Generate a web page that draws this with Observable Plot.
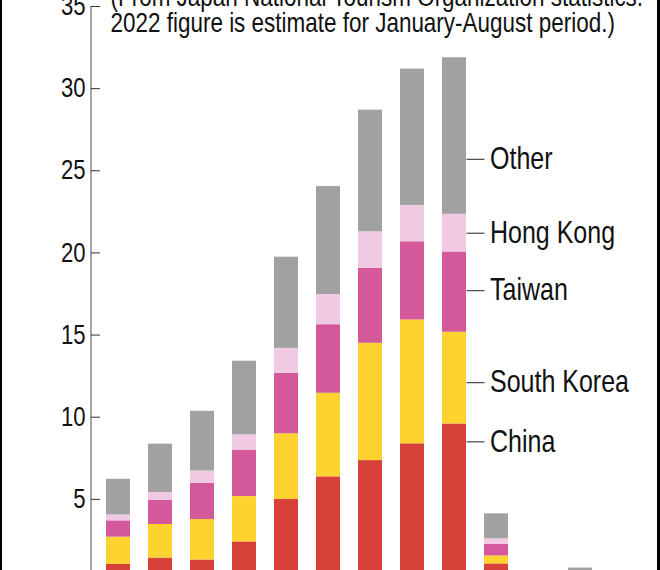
<!DOCTYPE html>
<html><head><meta charset="utf-8">
<script src="https://cdn.jsdelivr.net/npm/d3@7"></script>
<script src="https://cdn.jsdelivr.net/npm/@observablehq/plot@0.6"></script>
<style>
html,body{margin:0;padding:0;background:#fff;}
#wrap{position:relative;width:660px;height:570px;overflow:hidden;background:#fff;}
#wrap svg{display:block;margin-top:-34px;}
.edgeL{position:absolute;left:0;top:0;width:2px;height:570px;background:#000;}
.edgeR{position:absolute;right:0;top:0;width:3px;height:570px;background:#000;}
</style></head><body><div id="wrap"></div>
<script>
const years = ["2011","2012","2013","2014","2015","2016","2017","2018","2019","2020","2021","2022"];
const series = ["China","South Korea","Taiwan","Hong Kong","Other"];
const china    = [1.04,1.43,1.31,2.41,4.99,6.37,7.36,8.38,9.59,1.07,0.04,0.10];
const korea    = [1.66,2.04,2.46,2.76,4.00,5.09,7.14,7.54,5.58,0.49,0.02,0.12];
const taiwan   = [0.99,1.47,2.21,2.83,3.68,4.17,4.56,4.76,4.89,0.69,0.01,0.04];
const hongkong = [0.36,0.48,0.75,0.93,1.52,1.84,2.23,2.21,2.29,0.35,0.00,0.01];
const totals   = [6.22,8.36,10.36,13.41,19.74,24.04,28.69,31.19,31.88,4.12,0.25,0.82];
const yTicks = [0,5,10,15,20,25,30,35];
const labelYear = "2019";
const labelAt = [8.5,12.1,17.7,21.2,25.7];
const colors = ["#d8413a","#fed22f","#d3599a","#f0c9e2","#a2a1a2"];
const note = ["(From Japan National Tourism Organization statistics.","2022 figure is estimate for January-August period.)"];

const table = [];
years.forEach((yr, i) => {
  const vals = [china[i], korea[i], taiwan[i], hongkong[i]];
  const other = totals[i] - vals.reduce((a, b) => a + b, 0);
  vals.push(other);
  series.forEach((s, j) => table.push({year: yr, series: s, value: vals[j]}));
});

const plot = Plot.plot({
  width: 660, height: 650,
  marginTop: 40, marginLeft: 91, marginRight: 52.5, marginBottom: 35,
  style: {fontFamily: "'Liberation Sans', Arial, sans-serif", fontSize: "27px", color: "#111", background: "#fff"},
  x: {domain: years, paddingInner: 0.435, paddingOuter: 0.294, label: null, axis: null},
  y: {domain: [0, 35], label: null},
  color: {domain: series, range: colors},
  marks: [
    Plot.barY(table, {x: "year", y: "value", fill: "series", order: series}),
    Plot.axisY({ticks: yTicks, tickSize: 0, tickPadding: 6, label: null, fontSize: 27}),
    Plot.tickY(yTicks, {y: d => d, insetRight: 507.5, stroke: "#333"}),
    Plot.tickY(labelAt, {x: () => labelYear, y: d => d, dx: 24.5, insetRight: 6, stroke: "#222"}),
    Plot.text(series, {x: () => labelYear, y: (d, i) => labelAt[i], text: d => d, dx: 35.5, textAnchor: "start", lineAnchor: "middle", fontSize: 30.5, fill: "#111"}),
    Plot.text([note.join("\n")], {frameAnchor: "top-left", dx: 19, dy: 25, lineAnchor: "bottom", textAnchor: "start", lineHeight: 0.93, fontSize: 27.4, fill: "#111"})
  ]
});
// narrow the lettering (Arial-Narrow look) around each text's own anchor
d3.select(plot).selectAll("text").attr("transform", function() {
  return (this.getAttribute("transform") || "") + " scale(0.82,1)";
});
const ys = plot.scale("y");
d3.select(plot).insert("line", ":first-child")
  .attr("x1", 91).attr("x2", 91)
  .attr("y1", ys.apply(35)).attr("y2", ys.apply(0))
  .attr("stroke", "#888").attr("stroke-width", 1.5);
const wrap = document.getElementById("wrap");
wrap.appendChild(plot);
const l = document.createElement("div"); l.className = "edgeL"; wrap.appendChild(l);
const r = document.createElement("div"); r.className = "edgeR"; wrap.appendChild(r);
</script></body></html>
